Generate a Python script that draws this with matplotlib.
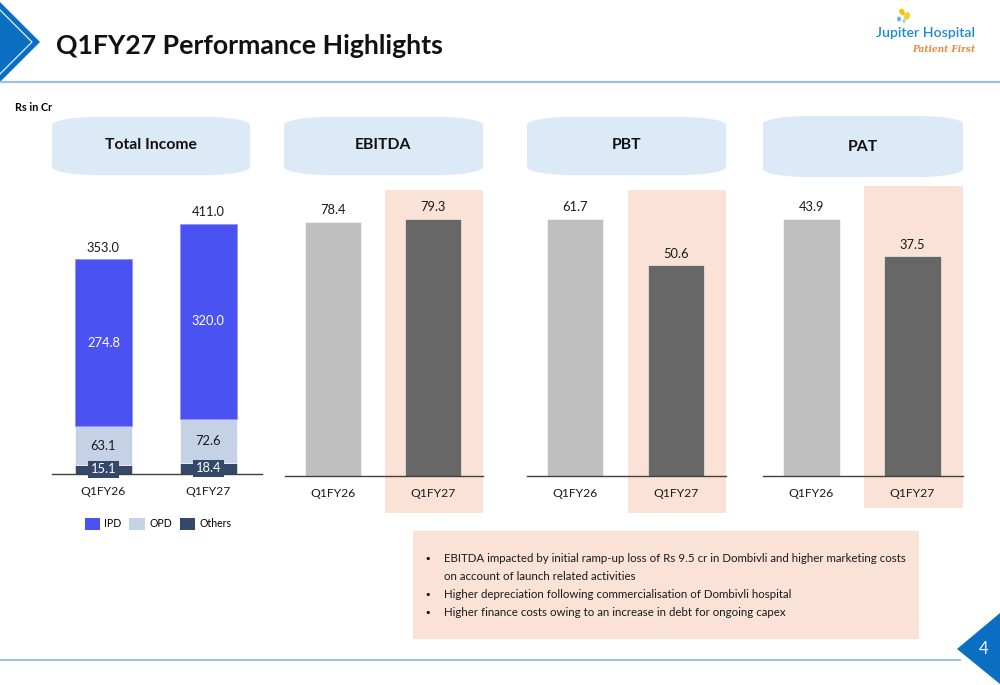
import numpy as np
import matplotlib
matplotlib.use("Agg")
import matplotlib.pyplot as plt
from matplotlib.patches import Polygon, Rectangle, Patch, Ellipse
from matplotlib.transforms import blended_transform_factory

plt.rcParams['font.family'] = ['Lato', 'DejaVu Sans']

# data
periods = ["Q1FY26", "Q1FY27"]
ipd = [274.8, 320.0]
opd = [63.1, 72.6]
others = [15.1, 18.4]
total_income = [353.0, 411.0]
ebitda = [78.4, 79.3]
pbt = [61.7, 50.6]
pat = [43.9, 37.5]
seg_names = ["IPD", "OPD", "Others"]
bullets = [
    ["EBITDA impacted by initial ramp-up loss of Rs 9.5 cr in Dombivli and higher marketing costs",
     "on account of launch related activities"],
    ["Higher depreciation following commercialisation of Dombivli hospital"],
    ["Higher finance costs owing to an increase in debt for ongoing capex"],
]

C_IPD, C_OPD, C_OTH = "#4A52F2", "#C5D1E4", "#34486A"
C_OLD, C_NEW = "#BFBFBF", "#676767"
C_HL = "#FBE2D6"
C_HEAD = "#DCE9F6"
C_BLUE = "#0A6FC2"
C_LINE = "#9DC3E6"

W, H = 1000, 685
fig = plt.figure(figsize=(10, 6.85), dpi=100)

# overlay in pixel coords for page decoration
ov = fig.add_axes([0, 0, 1, 1], zorder=0)
ov.set_xlim(0, W)
ov.set_ylim(H, 0)
ov.axis("off")


def add_axes_px(l, t, r, b):
    ax = fig.add_axes([l / W, 1 - b / H, (r - l) / W, (b - t) / H], zorder=1)
    ax.set_facecolor("none")
    for s in ["top", "right", "left"]:
        ax.spines[s].set_visible(False)
    ax.spines["bottom"].set_color("#404040")
    ax.spines["bottom"].set_linewidth(1.0)
    ax.set_yticks([])
    ax.tick_params(axis="x", length=0, pad=8.5, labelsize=8.7, colors="#1a1a1a")
    return ax


def header(l, t, r, b, label, ty):
    rx, ry = 45, 8
    q = np.linspace(0, np.pi / 2, 25)
    pts = np.vstack([
        np.c_[l + rx - rx * np.cos(q), t + ry - ry * np.sin(q)],
        np.c_[r - rx + rx * np.sin(q), t + ry - ry * np.cos(q)],
        np.c_[r - rx + rx * np.cos(q), b - ry + ry * np.sin(q)],
        np.c_[l + rx - rx * np.sin(q), b - ry + ry * np.cos(q)],
    ])
    ov.add_patch(Polygon(pts, closed=True, facecolor=C_HEAD, edgecolor="none"))
    ov.text((l + r) / 2, ty, label, ha="center", va="center", fontsize=11.3,
            fontweight="bold", color="#111111")


def highlight(ax, x0, x1, top, bot):
    tr = blended_transform_factory(ax.transData, ov.transData)
    ax.add_patch(Rectangle((x0, top), x1 - x0, bot - top, transform=tr,
                           facecolor=C_HL, edgecolor="none", zorder=0, clip_on=False))


# title area
ov.add_patch(Polygon([[0, 2], [40, 42], [0, 82]], closed=True, facecolor=C_BLUE, edgecolor="none"))
ov.plot([0, 32, 0], [10, 42, 74], color="white", lw=0.8)
ov.plot([0, W], [82, 82], color=C_LINE, lw=1.6)
ov.text(56, 46, "Q1FY27 Performance Highlights", fontsize=19.2, fontweight="bold",
        va="center", ha="left", color="#111111")
ov.text(15, 107, "Rs in Cr", fontsize=7.8, fontweight="bold", va="center", ha="left")

# logo
ov.add_patch(Ellipse((902, 12), 5, 7, angle=-30, facecolor="#F5C400", edgecolor="none"))
ov.add_patch(Ellipse((907, 16), 6, 8, angle=20, facecolor="#F7D13A", edgecolor="none"))
ov.add_patch(Ellipse((899, 19), 4, 5, facecolor="#6DB9E6", edgecolor="none"))
ov.add_patch(Ellipse((904, 21), 3, 4, facecolor="#9CD0EE", edgecolor="none"))
ov.text(975, 33, "Jupiter Hospital", fontsize=10.2, color="#1C8AD3", ha="right", va="center",
        fontweight="semibold")
ov.text(975, 49, "Patient First", fontsize=6.5, color="#E9893C", ha="right", va="center",
        family="DejaVu Serif", style="italic", fontweight="bold")

# page footer
ov.plot([0, 960], [660, 660], color=C_LINE, lw=1.4)
ov.add_patch(Polygon([[W, 613], [957, 649], [W, 684]], closed=True, facecolor=C_BLUE, edgecolor="none"))
ov.text(984, 649, "4", color="white", fontsize=12, ha="center", va="center")

# headers
header(52, 117, 250, 175, "Total Income", 145)
header(284, 117, 483, 175, "EBITDA", 145)
header(527, 117, 726, 175, "PBT", 145)
header(763, 116, 963, 177, "PAT", 147)

x = np.arange(len(periods))

# Total Income stacked
ax = add_axes_px(52, 190, 262, 474)
ax.set_xlim(-0.49, 1.51)
ax.set_ylim(0, max(total_income) * (474 - 190) / (474 - 224))
bw = 0.54
ax.bar(x, others, bw, color=C_OTH, edgecolor="white", linewidth=0.4)
ax.bar(x, opd, bw, bottom=others, color=C_OPD, edgecolor="white", linewidth=0.4)
bot3 = np.add(others, opd)
ax.bar(x, ipd, bw, bottom=bot3, color=C_IPD, edgecolor="#8E93FA", linewidth=0.6)
for i in x:
    ax.text(i, others[i] / 2, f"{others[i]:.1f}", ha="center", va="center", fontsize=9.3,
            color="white", bbox=dict(boxstyle="square,pad=0.18", facecolor=C_OTH, edgecolor="none"))
    ax.text(i, others[i] + opd[i] / 2, f"{opd[i]:.1f}", ha="center", va="center",
            fontsize=9.3, color="#1a1a1a")
    ax.text(i, bot3[i] + ipd[i] / 2, f"{ipd[i]:.1f}", ha="center", va="center",
            fontsize=9.3, color="white")
    ax.annotate(f"{total_income[i]:.1f}", (i, total_income[i]), xytext=(0, 4),
                textcoords="offset points", ha="center", va="bottom", fontsize=9.3, color="#1a1a1a")
ax.set_xticks(x, periods)

handles = [Patch(facecolor=c, edgecolor="none") for c in [C_IPD, C_OPD, C_OTH]]
fig.legend(handles, seg_names, loc="center", bbox_to_anchor=(158 / W, 1 - 524 / H), ncol=3,
           frameon=False, fontsize=7.6, handlelength=1.45, handleheight=1.45,
           columnspacing=0.75, handletextpad=0.4)

# single-bar panels
panels = [
    (ebitda, (285, 190, 483, 476), (190, 513)),
    (pbt, (527, 190, 726, 476), (190, 513)),
    (pat, (763, 186, 963, 476), (186, 508)),
]
for vals, (l, t, r, b), (ht, hb) in panels:
    ax = add_axes_px(l, t, r, b)
    ax.set_xlim(-0.48, 1.5)
    ax.set_ylim(0, max(vals) * (b - t) / (b - 219))
    highlight(ax, 0.52, 1.5, ht, hb)
    ax.bar(x, vals, 0.56, color=[C_OLD, C_NEW], edgecolor="white", linewidth=0.4, zorder=2)
    for i in x:
        ax.annotate(f"{vals[i]:.1f}", (i, vals[i]), xytext=(0, 4), textcoords="offset points",
                    ha="center", va="bottom", fontsize=9.3, color="#1a1a1a")
    ax.set_xticks(x, periods)

# commentary box
ov.add_patch(Rectangle((413, 531), 506, 108, facecolor=C_HL, edgecolor="none"))
yy = 559
for lines in bullets:
    ov.text(424, yy, "\u2022", fontsize=8, ha="left", va="center", family="DejaVu Sans")
    for ln in lines:
        ov.text(444, yy, ln, fontsize=8.3, ha="left", va="center", color="#1a1a1a")
        yy += 18

fig.savefig("out.png", dpi=100)
